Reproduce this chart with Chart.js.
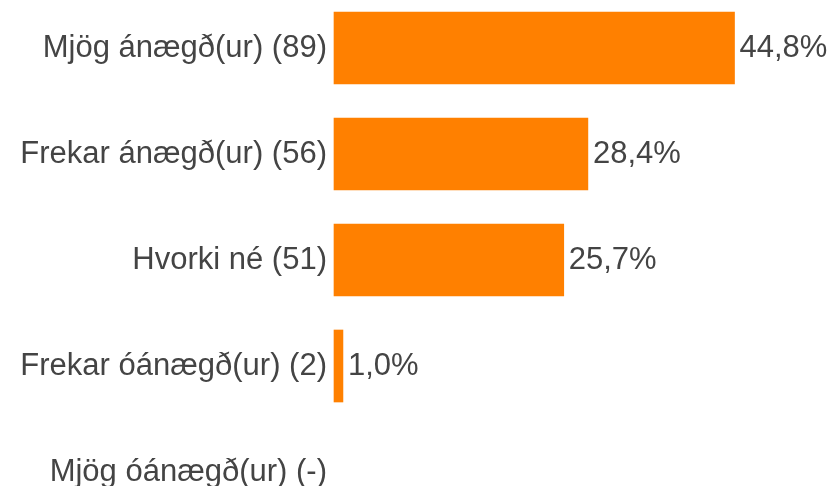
<!DOCTYPE html>
<html>
<head>
<meta charset="utf-8">
<script src="https://cdn.jsdelivr.net/npm/chart.js@4"></script>
<style>
  html, body { margin: 0; padding: 0; background: #fff; }
  #wrap { width: 832px; height: 486px; }
</style>
</head>
<body>
<div id="wrap"><canvas id="svor"></canvas></div>
<script>
const flokkar = ['Mjög ánægð(ur) (89)', 'Frekar ánægð(ur) (56)', 'Hvorki né (51)', 'Frekar óánægð(ur) (2)', 'Mjög óánægð(ur) (-)'];
const hlutfall = [44.8, 28.4, 25.7, 1.0, 0];

const textColor = '#444444';
const fontFamily = '"Liberation Sans", Arial, sans-serif';

const gildiPlugin = {
    id: 'gildi',
    afterDatasetsDraw(chart) {
        const ctx = chart.ctx;
        const meta = chart.getDatasetMeta(0);
        ctx.save();
        ctx.font = '31px ' + fontFamily;
        ctx.fillStyle = textColor;
        ctx.textBaseline = 'middle';
        ctx.textAlign = 'left';
        meta.data.forEach(function(bar, i) {
            const v = hlutfall[i];
            if (!v) return;
            ctx.fillText(v.toFixed(1).replace('.', ',') + '%', bar.x + 5, bar.y);
        });
        ctx.restore();
    }
};

const ctx = document.getElementById('svor').getContext('2d');
const svor = new Chart(ctx, {
    type: 'bar',
    data: {
        labels: flokkar,
        datasets: [{
            // engin súla fyrir 0
            data: hlutfall.map(v => v || null),
            backgroundColor: '#FF8000',
            borderWidth: 0,
            barThickness: 72,
            clip: false
        }]
    },
    options: {
        indexAxis: 'y',
        responsive: true,
        maintainAspectRatio: false,
        animation: false,
        layout: {
            padding: { top: 48, bottom: 14, left: 0, right: 51 }
        },
        plugins: {
            legend: { display: false },
            tooltip: { enabled: false }
        },
        scales: {
            x: {
                display: false,
                min: 0,
                max: 50
            },
            y: {
                offset: false,
                grid: { display: false, drawTicks: false },
                border: { display: false },
                ticks: {
                    color: textColor,
                    padding: 7,
                    font: { size: 31, family: fontFamily }
                },
                afterFit: function(axis) {
                    axis.width = 334;
                    axis.paddingTop = 0;
                    axis.paddingBottom = 0;
                }
            }
        }
    },
    plugins: [gildiPlugin]
});
</script>
</body>
</html>
